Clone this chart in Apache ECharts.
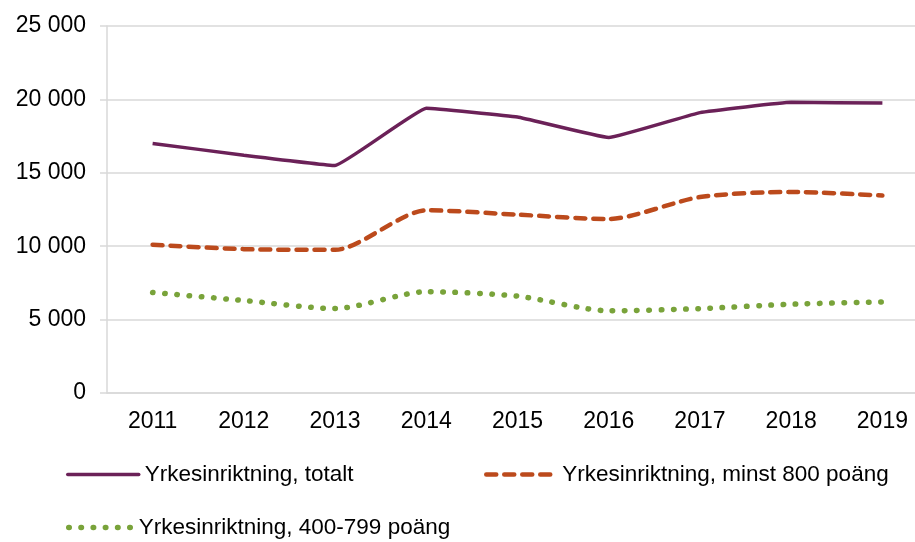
<!DOCTYPE html>
<html>
<head>
<meta charset="utf-8">
<script src="https://cdn.jsdelivr.net/npm/echarts@6/dist/echarts.min.js"></script>
<style>
  html, body { margin: 0; padding: 0; background: #fff; }
  #chart { width: 915px; height: 542px; }
</style>
</head>
<body>
<div id="chart"></div>
<script>
var years = ['2011', '2012', '2013', '2014', '2015', '2016', '2017', '2018', '2019'];
var totalt = [17000, 16200, 15500, 19400, 18800, 17400, 19100, 19800, 19750];
var minst800 = [10100, 9800, 9750, 12450, 12150, 11850, 13350, 13700, 13450];
var poang400_799 = [6850, 6300, 5750, 6900, 6600, 5600, 5750, 6050, 6200];

var names = ['Yrkesinriktning, totalt', 'Yrkesinriktning, minst 800 poäng', 'Yrkesinriktning, 400-799 poäng'];

var myChart = echarts.init(document.getElementById('chart'));
var font = 'Liberation Sans, Arial, sans-serif';

function legendAt(name, left, top, w, lw) {
  return {
    data: [name],
    left: left, top: top, padding: 0,
    itemWidth: w, itemHeight: 14, itemGap: 0,
    itemStyle: { opacity: 0 },
    lineStyle: { width: lw, cap: 'round' },
    textStyle: { fontSize: 22.5, color: '#000', fontFamily: font, padding: [0, 0, 0, 1] }
  };
}

var option = {
  animation: false,
  textStyle: { fontFamily: font },
  grid: { left: 107, right: -13, top: 26, bottom: 149, outerBoundsMode: 'none', containLabel: false },
  legend: [
    legendAt(names[0], 66, 463, 71, 3.5),
    legendAt(names[1], 484, 463, 70, 4.5),
    legendAt(names[2], 66, 516, 64, 5.5)
  ],
  xAxis: {
    type: 'category',
    data: years,
    boundaryGap: true,
    axisLine: { lineStyle: { color: '#d9d9d9', width: 1.5 } },
    axisTick: { show: false },
    axisLabel: { color: '#000', fontSize: 23, margin: 17, fontFamily: font }
  },
  yAxis: {
    type: 'value',
    min: 0, max: 25000, interval: 5000,
    axisLine: { show: true, lineStyle: { color: '#d9d9d9', width: 1.5 } },
    axisTick: { show: true, length: 7, lineStyle: { color: '#d9d9d9', width: 1.5 } },
    splitLine: { lineStyle: { color: '#d9d9d9', width: 1.5 } },
    axisLabel: {
      color: '#000', fontSize: 23, margin: 21, fontFamily: font,
      formatter: function (v) { return String(v).replace(/\B(?=(\d{3})+(?!\d))/g, ' '); }
    }
  },
  series: [{
    name: names[0], type: 'line', data: totalt,
    smooth: 0.08, showSymbol: false, symbol: 'none',
    lineStyle: { color: '#6B2158', width: 3.5 },
    itemStyle: { color: '#6B2158' }
  }, {
    name: names[1], type: 'line', data: minst800,
    smooth: 0.25, showSymbol: false, symbol: 'none',
    lineStyle: { color: '#BC4A1C', width: 4.5, type: [10, 8], cap: 'round' },
    itemStyle: { color: '#BC4A1C' }
  }, {
    name: names[2], type: 'line', data: poang400_799,
    smooth: 0.25, showSymbol: false, symbol: 'none',
    lineStyle: { color: '#79A33A', width: 5.5, type: [0.5, 11.7], cap: 'round' },
    itemStyle: { color: '#79A33A' }
  }]
};
myChart.setOption(option);
</script>
</body>
</html>
